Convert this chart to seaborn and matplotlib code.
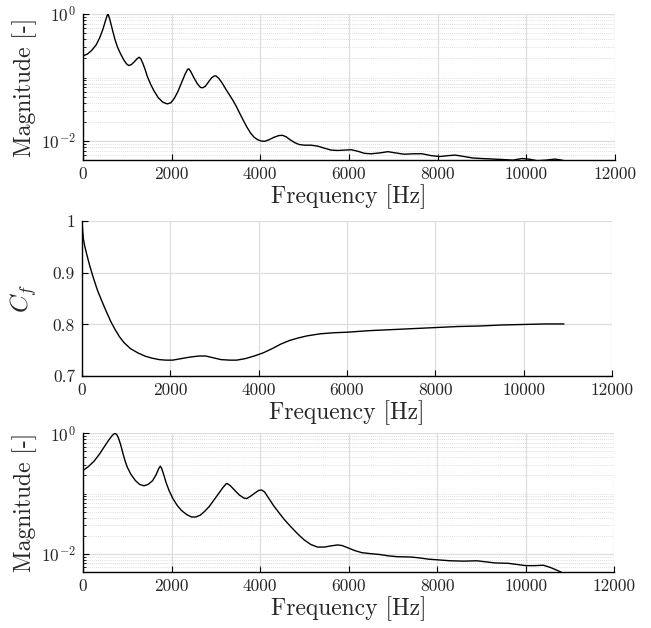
import numpy as np
import pandas as pd
import matplotlib
matplotlib.use("Agg")
import matplotlib.pyplot as plt
from matplotlib.ticker import FixedLocator, FuncFormatter, NullFormatter
import seaborn as sns

# --- magnitude spectrum, first signal ---
freq_a = [0, 100, 200, 300, 380, 450, 510, 545, 558, 575, 610, 660, 720, 780,
          850, 920, 980, 1030, 1090, 1150, 1220, 1265, 1300, 1350, 1400, 1450,
          1520, 1600, 1700, 1800, 1900, 1980, 2060, 2140, 2220, 2300, 2360,
          2390, 2430, 2500, 2580, 2650, 2700, 2760, 2830, 2900, 2960, 3000,
          3060, 3140, 3220, 3300, 3380, 3460, 3540, 3620, 3700, 3780, 3860,
          3940, 4020, 4100, 4200, 4300, 4420, 4500, 4580, 4680, 4780, 4880,
          5000, 5150, 5300, 5450, 5600, 5750, 5900, 6050, 6200, 6350, 6500,
          6700, 6880, 7050, 7250, 7450, 7650, 7850, 8050, 8250, 8400, 8600,
          8800, 9000, 9250, 9500, 9700, 9900, 10050, 10250, 10450, 10650,
          10800, 10900]
mag_a = [0.22, 0.235, 0.27, 0.33, 0.43, 0.58, 0.80, 0.95, 1.0, 0.96, 0.80,
         0.58, 0.40, 0.30, 0.235, 0.19, 0.165, 0.155, 0.16, 0.175, 0.198,
         0.209, 0.20, 0.168, 0.135, 0.105, 0.080, 0.062, 0.048, 0.041, 0.0385,
         0.040, 0.047, 0.060, 0.082, 0.112, 0.135, 0.137, 0.125, 0.100, 0.080,
         0.070, 0.069, 0.073, 0.085, 0.099, 0.106, 0.106, 0.098, 0.082, 0.066,
         0.054, 0.044, 0.035, 0.027, 0.021, 0.0165, 0.0134, 0.0115, 0.0105,
         0.0100, 0.0099, 0.0105, 0.0114, 0.0122, 0.0123, 0.0117, 0.0104,
         0.0094, 0.0088, 0.0086, 0.0086, 0.0083, 0.0077, 0.0072, 0.0071,
         0.0072, 0.0073, 0.0069, 0.0064, 0.0063, 0.0065, 0.0068, 0.0065,
         0.0062, 0.0063, 0.0063, 0.0059, 0.0057, 0.0059, 0.0060, 0.0057,
         0.0054, 0.0053, 0.0052, 0.0051, 0.0050, 0.0053, 0.0052, 0.0049,
         0.0050, 0.0052, 0.0050, 0.0048]

# --- C_f versus frequency ---
freq_c = [0, 10, 30, 60, 100, 170, 250, 350, 450, 550, 650, 750, 850, 950,
          1100, 1266, 1420, 1578, 1750, 1900, 2050, 2250, 2450, 2650, 2800,
          2950, 3150, 3350, 3500, 3700, 3900, 4100, 4300, 4500, 4700, 4900,
          5100, 5400, 5700, 6000, 6500, 7000, 7500, 8000, 8500, 9000, 9500,
          10000, 10500, 10914]
cf = [1.0, 0.985, 0.966, 0.952, 0.938, 0.915, 0.892, 0.866, 0.845, 0.825,
      0.806, 0.790, 0.776, 0.765, 0.753, 0.745, 0.739, 0.735, 0.732, 0.731,
      0.731, 0.734, 0.737, 0.739, 0.739, 0.736, 0.732, 0.731, 0.731, 0.734,
      0.739, 0.745, 0.753, 0.762, 0.769, 0.774, 0.778, 0.782, 0.784, 0.785,
      0.788, 0.790, 0.792, 0.794, 0.796, 0.797, 0.799, 0.800, 0.801, 0.801]

# --- magnitude spectrum, second signal ---
freq_b = [0, 120, 249, 370, 482, 580, 660, 716, 760, 800, 850, 900, 950, 1000,
          1080, 1183, 1280, 1377, 1470, 1572, 1650, 1710, 1745, 1775, 1820,
          1880, 1950, 2030, 2120, 2220, 2340, 2450, 2550, 2650, 2750, 2850,
          2950, 3050, 3150, 3230, 3260, 3330, 3420, 3530, 3640, 3700, 3780,
          3880, 3970, 4030, 4100, 4200, 4300, 4420, 4550, 4700, 4850, 5000,
          5150, 5300, 5450, 5600, 5750, 5850, 6000, 6150, 6300, 6500, 6700,
          6900, 7100, 7400, 7600, 7800, 8000, 8300, 8600, 8900, 9100, 9300,
          9600, 9800, 10000, 10200, 10400, 10550, 10700, 10850, 10911]
mag_b = [0.242, 0.28, 0.345, 0.45, 0.60, 0.77, 0.92, 1.0, 0.96, 0.84, 0.65,
         0.47, 0.35, 0.275, 0.21, 0.165, 0.142, 0.135, 0.142, 0.164, 0.205,
         0.26, 0.285, 0.265, 0.21, 0.15, 0.11, 0.083, 0.065, 0.053, 0.045,
         0.041, 0.041, 0.044, 0.051, 0.061, 0.077, 0.097, 0.123, 0.145, 0.147,
         0.135, 0.115, 0.095, 0.084, 0.083, 0.090, 0.102, 0.113, 0.115, 0.107,
         0.083, 0.064, 0.049, 0.037, 0.028, 0.0215, 0.017, 0.0143, 0.0130,
         0.0130, 0.0136, 0.0141, 0.0138, 0.0125, 0.0113, 0.0105, 0.0101,
         0.0098, 0.0093, 0.0090, 0.0089, 0.0086, 0.0082, 0.0080, 0.0077,
         0.0076, 0.0077, 0.0074, 0.0071, 0.0070, 0.0067, 0.0064, 0.0064,
         0.0065, 0.0060, 0.0054, 0.0048, 0.0046]

x_ticks = [0, 2000, 4000, 6000, 8000, 10000, 12000]

sns.set_theme(style="ticks")
plt.rcParams.update({
    "font.family": ["cmr10", "DejaVu Serif"],
    "mathtext.fontset": "cm",
    "axes.formatter.use_mathtext": True,
    "axes.unicode_minus": False,
    "xtick.direction": "in",
    "ytick.direction": "in",
})

fig = plt.figure(figsize=(6.51, 6.28), dpi=100)
ax1 = fig.add_axes([0.1275, 0.745, 0.817, 0.2325])
ax2 = fig.add_axes([0.126, 0.401, 0.814, 0.247])
ax3 = fig.add_axes([0.1275, 0.089, 0.816, 0.221])

major_grid = dict(color="#dedede", linewidth=0.9, linestyle="-")
minor_grid = dict(color="#d4d4d4", linewidth=0.6, linestyle=(0, (1, 1.5)))


def style_axes(ax):
    for side in ("top", "right"):
        ax.spines[side].set_visible(False)
    for side in ("left", "bottom"):
        ax.spines[side].set_color("black")
        ax.spines[side].set_linewidth(1.0)
    ax.set_xlim(0, 12000)
    ax.xaxis.set_major_locator(FixedLocator(x_ticks))
    ax.xaxis.set_major_formatter(FuncFormatter(lambda v, p: f"{v:g}"))
    ax.tick_params(axis="both", which="major", length=4, width=0.8,
                   labelsize=12.5, color="black", pad=5,
                   bottom=True, left=True, top=False, right=False)
    ax.tick_params(axis="both", which="minor", length=2.5, width=0.6,
                   color="black", bottom=False, left=True, top=False,
                   right=False)
    ax.set_xlabel("Frequency [Hz]", fontsize=17, labelpad=1)
    ax.set_axisbelow(True)
    ax.grid(True, which="major", axis="both", **major_grid)


def style_log(ax):
    ax.set_yscale("log")
    ax.set_ylim(0.005, 1)
    ax.yaxis.set_major_locator(FixedLocator([1e-2, 1e0]))
    minors = [k * 10.0 ** d for d in (-3, -2, -1) for k in range(1, 10)]
    minors = [m for m in minors if 0.005 <= m < 1 and m not in (1e-2,)]
    ax.yaxis.set_minor_locator(FixedLocator(minors))
    ax.yaxis.set_minor_formatter(NullFormatter())
    ax.grid(True, which="minor", axis="y", **minor_grid)
    ax.set_ylabel("Magnitude [-]", fontsize=17, labelpad=3)


df_a = pd.DataFrame({"f": freq_a, "m": mag_a})
df_c = pd.DataFrame({"f": freq_c, "c": cf})
df_b = pd.DataFrame({"f": freq_b, "m": mag_b})

sns.lineplot(data=df_a, x="f", y="m", ax=ax1, color="black", linewidth=1.0)
style_axes(ax1)
style_log(ax1)

sns.lineplot(data=df_c, x="f", y="c", ax=ax2, color="black", linewidth=1.0)
style_axes(ax2)
ax2.set_ylim(0.7, 1.0)
ax2.yaxis.set_major_locator(FixedLocator([0.7, 0.8, 0.9, 1.0]))
ax2.yaxis.set_major_formatter(FuncFormatter(lambda v, p: f"{v:g}"))
ax2.set_ylabel("$C_f$", fontsize=18, labelpad=10)

sns.lineplot(data=df_b, x="f", y="m", ax=ax3, color="black", linewidth=1.0)
style_axes(ax3)
style_log(ax3)

fig.savefig("out.png", dpi=100)
